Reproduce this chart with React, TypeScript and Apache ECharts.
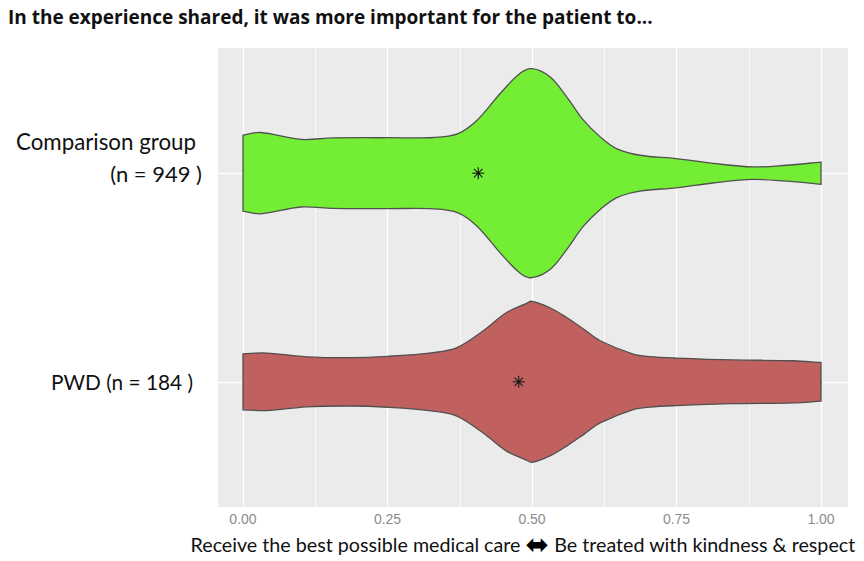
import React, { useEffect, useRef } from 'react';
import * as echarts from 'echarts';

const titleText = 'In the experience shared, it was more important for the patient to...';
const xAxisLeftText = 'Receive the best possible medical care';
const xAxisRightText = 'Be treated with kindness & respect';
const pwdLabel = 'PWD (n = 184 )';
const comparisonLabel = 'Comparison group';
const comparisonCount = '(n = 949 )';

const xTickValues = [0, 0.25, 0.5, 0.75, 1];
const xMinorValues = [0.125, 0.375, 0.625, 0.875];
const groupPositions = [0, 1]; // PWD, Comparison group

// Violin outlines: x position and half-width (in group units)
const comparisonX = [0, 0.03, 0.1, 0.156, 0.25, 0.33, 0.372, 0.405, 0.445, 0.479, 0.5, 0.531, 0.56, 0.589, 0.618, 0.646, 0.687, 0.75, 0.813, 0.882, 0.94, 1.0];
const comparisonHalfWidth = [0.182, 0.195, 0.162, 0.169, 0.17, 0.171, 0.19, 0.254, 0.382, 0.478, 0.501, 0.462, 0.366, 0.254, 0.174, 0.118, 0.086, 0.07, 0.047, 0.03, 0.038, 0.053];
const pwdX = [0, 0.041, 0.11, 0.185, 0.25, 0.329, 0.37, 0.415, 0.456, 0.49, 0.5, 0.531, 0.56, 0.589, 0.618, 0.675, 0.704, 0.75, 0.848, 0.952, 1.0];
const pwdHalfWidth = [0.134, 0.138, 0.12, 0.116, 0.122, 0.14, 0.164, 0.244, 0.332, 0.375, 0.386, 0.355, 0.308, 0.253, 0.197, 0.133, 0.121, 0.114, 0.105, 0.101, 0.093];

const meanValues = [0.477, 0.407]; // PWD, Comparison group

const violinFill = ['#C0615F', '#74EE35'];

export default function App() {
  const ref = useRef<HTMLDivElement>(null);
  useEffect(() => {
    if (!ref.current) return;
    const chart = echarts.init(ref.current, null, { renderer: 'svg' });
    const outlines = [
      { xs: pwdX, ws: pwdHalfWidth },
      { xs: comparisonX, ws: comparisonHalfWidth },
    ];
    const xMin = -0.04325;
    const xMax = 1.0467;
    chart.setOption({
      animation: false,
      backgroundColor: '#ffffff',
      title: {
        text: titleText,
        left: 3,
        top: 2,
        textStyle: { fontFamily: 'Open Sans', fontWeight: 'bold', fontSize: 19, color: '#111111' },
      },
      grid: {
        left: 218,
        right: 16,
        top: 48,
        bottom: 54,
        show: true,
        backgroundColor: '#EBEBEB',
        borderWidth: 0,
        outerBoundsMode: 'none',
        containLabel: false,
      },
      xAxis: [
        {
          type: 'value',
          min: xMin,
          max: xMax,
          position: 'bottom',
          axisLine: { show: false },
          axisTick: { show: true, customValues: xTickValues, length: 3, lineStyle: { color: '#aaaaaa' } },
          axisLabel: {
            customValues: xTickValues,
            formatter: (v: number) => v.toFixed(2),
            color: '#8c8c8c',
            fontSize: 14,
            fontFamily: 'Liberation Sans',
            margin: 5,
          },
          splitLine: { show: true, lineStyle: { color: '#ffffff', width: 1.3 } },
          name: `{a|${xAxisLeftText} }{arr|⬌}{a| ${xAxisRightText}}`,
          nameLocation: 'middle',
          nameGap: 24,
          nameTextStyle: {
            padding: [0, 20, 0, 0],
            rich: {
              a: { fontFamily: 'Lato', fontSize: 19.7, color: '#111111', lineHeight: 24 },
              arr: { fontFamily: 'DejaVu Sans', fontSize: 28, color: '#000000', lineHeight: 24 },
            },
          },
        },
        {
          type: 'value',
          min: xMin,
          max: xMax,
          position: 'top',
          axisLine: { show: false },
          axisTick: { show: false, customValues: xMinorValues },
          axisLabel: { show: false, customValues: xMinorValues },
          splitLine: { show: true, lineStyle: { color: '#ffffff', width: 0.7 } },
        },
      ],
      yAxis: {
        type: 'value',
        min: -0.6,
        max: 1.6,
        axisLine: { show: false },
        axisTick: { show: false, customValues: groupPositions },
        axisLabel: {
          customValues: groupPositions,
          margin: 16,
          formatter: (v: number) =>
            v === 1
              ? `{t|${comparisonLabel}}\n{n|${comparisonCount}}\n{e| }`
              : `{p|${pwdLabel}}`,
          rich: {
            t: { fontFamily: 'Lato', fontSize: 22.3, color: '#111111', lineHeight: 32, padding: [0, 6, 0, 0] },
            n: { fontFamily: 'Lato', fontSize: 22, color: '#111111', lineHeight: 32 },
            e: { fontFamily: 'Lato', fontSize: 22, lineHeight: 32 },
            p: { fontFamily: 'Lato', fontSize: 20.8, color: '#111111', lineHeight: 32, padding: [0, 9, 0, 0] },
          },
        },
        splitLine: { show: true, lineStyle: { color: '#ffffff', width: 1.3 } },
      },
      series: [
        {
          type: 'custom',
          name: 'violins',
          xAxisIndex: 0,
          data: groupPositions.map((g) => [g]),
          encode: { y: 0 },
          renderItem: (params: any, api: any) => {
            const idx = params.dataIndex;
            const { xs, ws } = outlines[idx];
            const yc = api.value(0);
            const top = xs.map((x: number, i: number) => api.coord([x, yc + ws[i]]));
            const bottom = xs.map((x: number, i: number) => api.coord([x, yc - ws[i]])).reverse();
            const pts = [top[0], ...top, top[top.length - 1], bottom[0], ...bottom, bottom[bottom.length - 1]];
            return {
              type: 'polygon',
              shape: { points: pts, smooth: 0.35 },
              style: { fill: violinFill[idx], stroke: '#505050', lineWidth: 1.3 },
            };
          },
        },
        {
          type: 'custom',
          name: 'means',
          xAxisIndex: 0,
          data: groupPositions.map((g, i) => [meanValues[i], g]),
          encode: { x: 0, y: 1 },
          renderItem: (params: any, api: any) => {
            const c = api.coord([api.value(0), api.value(1)]);
            const r = 6;
            const children: any[] = [0, 45, 90, 135].map((deg) => {
              const a = (deg * Math.PI) / 180;
              const dx = Math.cos(a) * r;
              const dy = Math.sin(a) * r;
              return {
                type: 'line',
                shape: { x1: c[0] - dx, y1: c[1] - dy, x2: c[0] + dx, y2: c[1] + dy },
                style: { stroke: '#1a1a1a', lineWidth: 1.1 },
              };
            });
            children.push({ type: 'circle', shape: { cx: c[0], cy: c[1], r: 1.6 }, style: { fill: '#1a1a1a' } });
            return { type: 'group', children };
          },
        },
      ],
    });
    return () => chart.dispose();
  }, []);
  return <div ref={ref} style={{ position: 'fixed', left: 0, top: 0, width: 864, height: 561 }} />;
}
